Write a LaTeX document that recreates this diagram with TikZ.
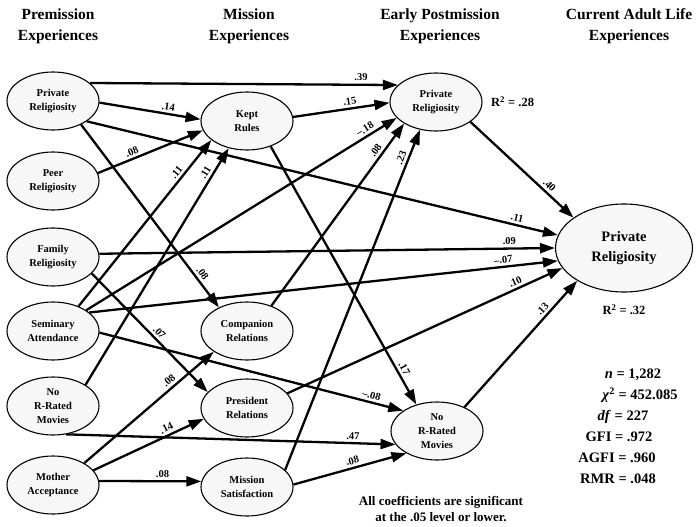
\documentclass[tikz,border=0pt]{standalone}
\usepackage{fontspec}
\setmainfont{Liberation Serif}
\usetikzlibrary{shapes.geometric,arrows.meta}
\tikzset{
  var/.style={ellipse, draw, line width=1.1pt, fill=gray!6, minimum width=92pt, minimum height=58pt, inner sep=0pt, align=center, font=\fontsize{10.5}{14}\selectfont\bfseries},
  bigvar/.style={var, minimum width=137pt, minimum height=88pt, font=\fontsize{14.5}{20}\selectfont\bfseries},
  arr/.style={line width=2.3pt, -{Triangle[length=15pt,width=10pt]}},
  coef/.style={font=\fontsize{10.5}{12}\selectfont\bfseries, sloped, above, inner sep=2.5pt},
  hdr/.style={align=center, font=\fontsize{15.5}{21}\selectfont\bfseries},
  stat/.style={font=\fontsize{14.5}{18}\selectfont\bfseries, inner sep=0pt},
  note/.style={align=center, font=\fontsize{13}{16}\selectfont\bfseries},
  rsq/.style={font=\fontsize{12.5}{14}\selectfont\bfseries, inner sep=0pt}
}
\begin{document}
\begin{tikzpicture}[x=1pt,y=-1pt]
\useasboundingbox (0,0) rectangle (696,527);
% headers
\node[hdr] (h1) at (58,26) {Premission\\Experiences};
\node[hdr] (h2) at (249,26) {Mission\\Experiences};
\node[hdr] (h3) at (440,26) {Early Postmission\\Experiences};
\node[hdr] (h4) at (629,26) {Current Adult Life\\Experiences};
% left column
\node[var] (LPR) at (53,101) {Private\\Religiosity};
\node[var] (PEER) at (53,181) {Peer\\Religiosity};
\node[var] (FAM) at (53,257) {Family\\Religiosity};
\node[var] (SEM) at (53,331) {Seminary\\Attendance};
\node[var] (NOR) at (53,406) {No\\R-Rated\\Movies};
\node[var] (MOM) at (53,485) {Mother\\Acceptance};
% mission column
\node[var] (KEPT) at (247,121) {Kept\\Rules};
\node[var] (COMP) at (247,331) {Companion\\Relations};
\node[var] (PRES) at (247,408) {President\\Relations};
\node[var] (MSAT) at (247,487) {Mission\\Satisfaction};
% early postmission
\node[var] (EPR) at (436,102) {Private\\Religiosity};
\node[var] (ENOR) at (437,431) {No\\R-Rated\\Movies};
% current
\node[bigvar] (CPR) at (624,248) {Private\\Religiosity};
% R squared
\node[rsq, anchor=west] (r1) at (491,102) {R\textsuperscript{2} = .28};
\node[rsq] (r2) at (624,310) {R\textsuperscript{2} = .32};
% edges
\draw[arr] (LPR.26) -- node[coef,pos=.88]{.39} (EPR.156);
\draw[arr] (LPR.-2) -- node[coef,pos=.67]{.14} (KEPT.178);
\draw[arr] (LPR.-31) -- node[coef,pos=.91]{.11} (CPR.169);
\draw[arr] (LPR.-40) -- node[coef,pos=.84]{.08} (COMP.140);
\draw[arr] (PEER.10) -- node[coef,pos=.35]{.08} (KEPT.192);
\draw[arr] (FAM.4) -- node[coef,pos=.90]{.09} (CPR.180);
\draw[arr] (FAM.-23) -- node[coef,pos=.54]{.07} (PRES.158);
\draw[arr] (SEM.44) -- node[coef,pos=.78]{.11} (KEPT.208);
\draw[arr] (SEM.32) -- node[coef,pos=.91]{–.18} (EPR.202);
\draw[arr] (SEM.27) -- node[coef,pos=.885]{–.07} (CPR.191);
\draw[arr] (SEM.-2) -- node[coef,pos=.89]{–.08} (ENOR.149);
\draw[arr] (NOR.33) -- node[coef,pos=.88]{.11} (KEPT.236);
\draw[arr] (NOR.-65) -- node[coef,pos=.87]{.47} (ENOR.198);
\draw[arr] (MOM.35) -- node[coef,pos=.69]{.08} (COMP.212);
\draw[arr] (MOM.20) -- node[coef,pos=.69]{.14} (PRES.194);
\draw[arr] (MOM.5) -- node[coef,pos=.62]{.08} (MSAT.173);
\draw[arr] (KEPT.5) -- node[coef,pos=.6]{.15} (EPR.181);
\draw[arr] (KEPT.-47) -- node[coef,pos=.875]{.17} (ENOR.128);
\draw[arr] (COMP.46) -- node[coef,pos=.83]{.08} (EPR.214);
\draw[arr] (PRES.20) -- node[coef,pos=.84]{.10} (CPR.198);
\draw[arr] (MSAT.24) -- node[coef,pos=.91]{.23} (EPR.240);
\draw[arr] (MSAT.3) -- node[coef,pos=.54]{.08} (ENOR.216);
\draw[arr] (EPR.-30) -- node[coef,pos=.72]{.40} (CPR.149);
\draw[arr] (ENOR.41) -- node[coef,pos=.74]{.13} (CPR.215);
% fit statistics
\node[stat] (s1) at (633,375) {\textit{n} = 1,282};
\node[stat] (s2) at (640,395) {\textit{χ}\textsuperscript{2} = 452.085};
\node[stat] (s3) at (623,417) {\textit{df} = 227};
\node[stat] (s4) at (619,437) {GFI = .972};
\node[stat] (s5) at (617,458) {AGFI = .960};
\node[stat] (s6) at (618,479) {RMR = .048};
% note
\node[note] (nt) at (441,509) {All coefficients are significant\\at the .05 level or lower.};
\end{tikzpicture}
\end{document}
